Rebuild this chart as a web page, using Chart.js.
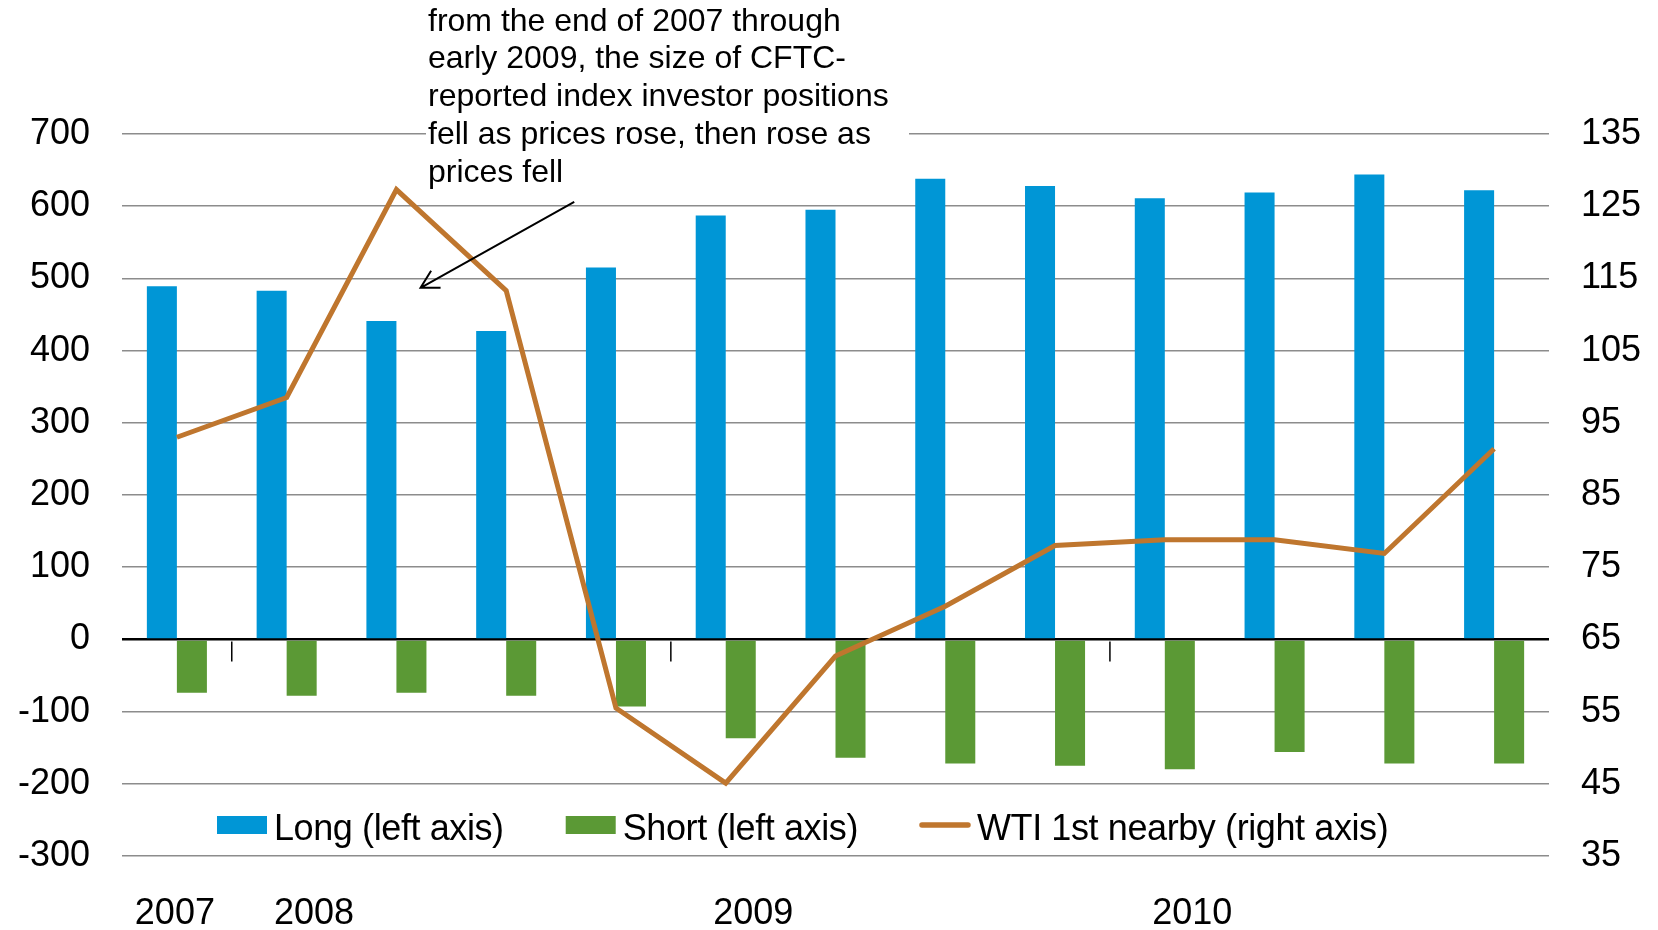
<!DOCTYPE html>
<html>
<head>
<meta charset="utf-8">
<script src="https://cdn.jsdelivr.net/npm/chart.js@4.4.0/dist/chart.umd.min.js"></script>
<style>
html,body{margin:0;padding:0;background:#ffffff;overflow:hidden;}
#wrap{width:1658px;height:930px;position:relative;}
</style>
</head>
<body>
<div id="wrap"><canvas id="c" width="1658" height="930"></canvas></div>
<script>
// ---- data ----
const categories = ['2007 Q4','2008 Q1','2008 Q2','2008 Q3','2008 Q4','2009 Q1','2009 Q2','2009 Q3','2009 Q4','2010 Q1','2010 Q2','2010 Q3','2010 Q4'];
const longPositions  = [489, 483, 441, 427, 515, 587, 595, 638, 628, 611, 619, 644, 622];
const shortPositions = [-74, -78, -74, -78, -93, -137, -164, -172, -175, -180, -156, -172, -172];
const wtiPrices      = [93.0, 98.5, 127.3, 113.3, 55.5, 45.1, 62.7, 69.6, 78.0, 78.8, 78.8, 76.9, 91.4];
const seriesNames = ['Long (left axis)', 'Short (left axis)', 'WTI 1st nearby (right axis)'];
const annotationLines = [
  'from the end of 2007 through',
  'early 2009, the size of CFTC-',
  'reported index investor positions',
  'fell as prices rose, then rose as',
  'prices fell'
];
// arrow anchors in data units: [category index, left-axis value]
const arrowTail = [3.62, 606];
const arrowHead = [2.22, 487];

const FONT = '"Liberation Sans", Arial, Helvetica, sans-serif';
const COLORS = { long: '#0096D6', short: '#5B9935', wti: '#BF762E', grid: '#8C8C8C' };

const decorations = {
  id: 'decorations',
  beforeDatasetsDraw(chart) {
    // white backing of the annotation box interrupts the top gridline
    const ctx = chart.ctx;
    ctx.save();
    ctx.fillStyle = '#ffffff';
    ctx.fillRect(426, 0, 483, 150);
    ctx.restore();
  },
  afterDraw(chart) {
    const ctx = chart.ctx;
    const xs = chart.scales.x, ys = chart.scales.y;
    const n = categories.length;
    const catW = (xs.right - xs.left) / n;
    const x0 = xs.getPixelForValue(0);
    const zeroY = ys.getPixelForValue(0);
    ctx.save();

    // year boundary tick marks and year labels
    const years = [];
    categories.forEach((c, i) => {
      const yr = c.split(' ')[0];
      if (!years.find(y => y.yr === yr)) years.push({ yr, i });
    });
    ctx.strokeStyle = '#000';
    ctx.lineWidth = 1.5;
    ctx.fillStyle = '#000';
    ctx.font = '36px ' + FONT;
    ctx.textAlign = 'center';
    ctx.textBaseline = 'alphabetic';
    years.forEach(({ yr, i }) => {
      const cx = x0 + i * catW;
      if (i > 0) {
        const bx = cx - catW / 2;
        ctx.beginPath();
        ctx.moveTo(bx, zeroY + 2);
        ctx.lineTo(bx, zeroY + 22);
        ctx.stroke();
      }
      const lx = i === 0 ? cx - 2 : cx + 0.25 * catW;
      ctx.fillText(yr, lx, 924);
    });

    // legend inside the plot
    const ds = chart.data.datasets;
    let lx = 217;
    const ly = 825;
    ctx.textAlign = 'left';
    ctx.font = '36px ' + FONT;
    if ('letterSpacing' in ctx) ctx.letterSpacing = '-0.4px';
    ds.forEach((d, k) => {
      if (d.type === 'line') {
        ctx.strokeStyle = d.borderColor;
        ctx.lineWidth = 5.5;
        ctx.lineCap = 'round';
        ctx.beginPath();
        ctx.moveTo(lx + 2, ly);
        ctx.lineTo(lx + 48, ly);
        ctx.stroke();
        ctx.lineCap = 'butt';
      } else {
        ctx.fillStyle = d.backgroundColor;
        ctx.fillRect(lx, ly - 9, 50, 18);
      }
      ctx.fillStyle = '#000';
      const tx = lx + 57;
      ctx.fillText(d.label, tx, 840);
      lx = tx + ctx.measureText(d.label).width + 62;
    });
    if ('letterSpacing' in ctx) ctx.letterSpacing = '0px';

    // annotation text
    ctx.font = '32px ' + FONT;
    ctx.fillStyle = '#000';
    annotationLines.forEach((t, k) => ctx.fillText(t, 428, 30.7 + k * 37.7));

    // arrow
    const px = v => x0 + v * catW;
    const tx = px(arrowTail[0]), ty = ys.getPixelForValue(arrowTail[1]);
    const hx = px(arrowHead[0]), hy = ys.getPixelForValue(arrowHead[1]);
    ctx.strokeStyle = '#000';
    ctx.lineWidth = 2;
    ctx.beginPath();
    ctx.moveTo(tx, ty);
    ctx.lineTo(hx, hy);
    const ang = Math.atan2(ty - hy, tx - hx);
    const L = 20, w = 29 * Math.PI / 180;
    ctx.moveTo(hx + L * Math.cos(ang - w), hy + L * Math.sin(ang - w));
    ctx.lineTo(hx, hy);
    ctx.lineTo(hx + L * Math.cos(ang + w), hy + L * Math.sin(ang + w));
    ctx.stroke();
    ctx.restore();
  }
};

new Chart(document.getElementById('c'), {
  type: 'bar',
  data: {
    labels: categories,
    datasets: [
      { type: 'bar', label: seriesNames[0], data: longPositions, backgroundColor: COLORS.long, yAxisID: 'y', order: 2,
        categoryPercentage: 0.547, barPercentage: 1.0 },
      { type: 'bar', label: seriesNames[1], data: shortPositions, backgroundColor: COLORS.short, yAxisID: 'y', order: 2,
        categoryPercentage: 0.547, barPercentage: 1.0 },
      { type: 'line', label: seriesNames[2], data: wtiPrices, borderColor: COLORS.wti, backgroundColor: COLORS.wti,
        borderWidth: 5, pointRadius: 0, tension: 0, borderJoinStyle: 'miter', yAxisID: 'y2', order: 0, fill: false }
    ]
  },
  options: {
    responsive: false,
    animation: false,
    devicePixelRatio: 1,
    layout: { padding: { top: 134, left: 0, right: 0, bottom: 0 } },
    plugins: { legend: { display: false }, tooltip: { enabled: false } },
    scales: {
      x: {
        type: 'category', offset: true,
        grid: { display: false, drawTicks: false }, border: { display: false },
        ticks: { display: false },
        afterFit(s) { s.height = 74; }
      },
      y: {
        position: 'left', min: -300, max: 700,
        ticks: { stepSize: 100, color: '#000', padding: 32, font: { family: FONT, size: 36 } },
        grid: {
          drawTicks: false,
          color: c => (c.tick && c.tick.value === 0) ? '#000000' : COLORS.grid,
          lineWidth: c => (c.tick && c.tick.value === 0) ? 2.5 : 1.5
        },
        border: { display: false },
        afterFit(s) { s.width = 122; }
      },
      y2: {
        position: 'right', min: 35, max: 135,
        ticks: { stepSize: 10, color: '#000', padding: 32, font: { family: FONT, size: 36 } },
        grid: { display: false, drawTicks: false },
        border: { display: false },
        afterFit(s) { s.width = 109; }
      }
    }
  },
  plugins: [decorations]
});
</script>
</body>
</html>
